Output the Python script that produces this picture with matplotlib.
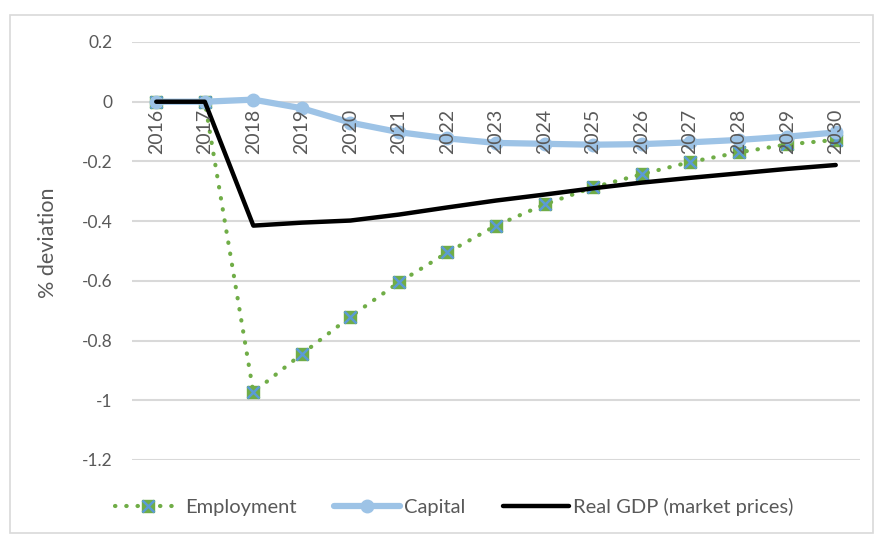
import matplotlib
matplotlib.use("Agg")
import matplotlib.pyplot as plt
from matplotlib.patches import Rectangle

years = [str(y) for y in range(2016, 2031)]
employment = [0.0, 0.0, -0.973, -0.845, -0.72, -0.605, -0.505, -0.415, -0.344,
              -0.287, -0.243, -0.202, -0.17, -0.143, -0.128]
capital = [0.0, 0.0, 0.007, -0.022, -0.07, -0.102, -0.123, -0.138, -0.141,
           -0.144, -0.142, -0.136, -0.128, -0.117, -0.103]
real_gdp = [0.0, 0.0, -0.415, -0.405, -0.398, -0.378, -0.354, -0.331, -0.311,
            -0.29, -0.271, -0.255, -0.24, -0.225, -0.212]
y_ticks = [0.2, 0, -0.2, -0.4, -0.6, -0.8, -1, -1.2]
y_tick_labels = ["0.2", "0", "-0.2", "-0.4", "-0.6", "-0.8", "-1", "-1.2"]
series_names = ["Employment", "Capital", "Real GDP (market prices)"]

GREEN = "#70AD47"
BLUE = "#5B9BD5"
LIGHT_BLUE = "#9DC3E6"
GRID = "#D9D9D9"
TEXT = "#595959"

plt.rcParams["font.family"] = ["Lato", "DejaVu Sans"]

W, H = 875, 534
fig = plt.figure(figsize=(W / 100, H / 100), dpi=100)
ax = fig.add_axes([132 / W, 1 - 460 / H, (860 - 132) / W, (460 - 42) / H])

x = list(range(len(years)))

emp_line, = ax.plot(x, employment, color=GREEN, lw=3.0, linestyle=(0, (0.1, 2.6)),
                    dash_capstyle="round", marker="s", markersize=8,
                    markerfacecolor=GREEN, markeredgecolor=GREEN, zorder=2)
emp_x, = ax.plot(x, employment, linestyle="none", marker="x", markersize=8,
                 markeredgewidth=1.8, color=BLUE, zorder=2.05)
cap_line, = ax.plot(x, capital, color=LIGHT_BLUE, lw=4.5, marker="o", markersize=9,
                    solid_capstyle="round", zorder=2.1)
gdp_line, = ax.plot(x, real_gdp, color="black", lw=3.2, solid_capstyle="round", zorder=2.2)

ax.set_xlim(-0.5, len(years) - 0.5)
ax.set_ylim(-1.2, 0.2)
ax.set_yticks(y_ticks)
ax.set_yticklabels(y_tick_labels)
ax.yaxis.grid(True, color=GRID, lw=1.5)
ax.set_axisbelow(True)

for s in ax.spines.values():
    s.set_visible(False)
ax.spines["bottom"].set_position(("data", 0))

ax.set_xticks(x)
ax.set_xticklabels(years, rotation=90, va="top", ha="center")
ax.tick_params(axis="x", length=0, pad=5, labelsize=14, labelcolor=TEXT)
ax.tick_params(axis="y", length=0, pad=14, labelsize=12.5, labelcolor=TEXT)
# year labels sit on top of the series lines
ax.xaxis.set_zorder(10)

ax.set_ylabel("% deviation", fontsize=15.5, color=TEXT)
ax.yaxis.set_label_coords(-0.102, 0.52)

fig.legend([(emp_line, emp_x), cap_line, gdp_line], series_names,
           loc="center", bbox_to_anchor=(0.519, 1 - 507 / H), ncol=3,
           frameon=False, fontsize=14.5, labelcolor=TEXT,
           handlelength=3.3, handletextpad=0.2, columnspacing=1.85)

fig.patches.append(Rectangle((10 / W, 1 / H), (W - 12) / W, (H - 16) / H,
                             transform=fig.transFigure, fill=False,
                             edgecolor=GRID, lw=1.2))

fig.savefig("out.png", dpi=100)
